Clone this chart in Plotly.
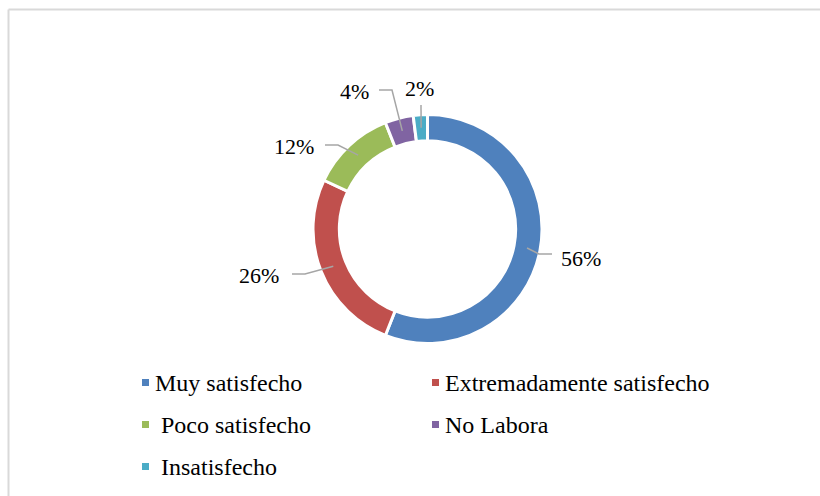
import math
import plotly.graph_objects as go

# Survey results: satisfaction levels
categories = ["Muy satisfecho", "Extremadamente satisfecho", "\u00a0Poco satisfecho",
              "No Labora", "\u00a0Insatisfecho"]
values = [56, 26, 12, 4, 2]
colors = ["#4F81BD", "#C0504D", "#9BBB59", "#8064A2", "#4BACC6"]

W, H = 820, 496
FONT = "Liberation Serif"

# donut geometry (pixels)
cx, cy, R = 427.5, 229.0, 114.5
hole = 0.77

# label text centres and leader-line bend points (pixels), one entry per slice
label_xy = [(581, 258), (259, 275), (294, 146), (354, 91), (419.5, 88)]
leader_pts = [
    [(539, 254), (552, 254)],
    [(305, 274), (292, 274)],
    [(338, 145), (325, 145)],
    [(392, 90), (379, 90)],
    [(421, 105)],
]

# legend grid (pixels): two columns, filled row by row
legend_cols = [145.5, 435.5]
legend_rows = [382.5, 424.5, 466.5]
swatch = 7
text_gap = 8


def px(x):
    return x / W


def py(y):
    return 1 - y / H


fig = go.Figure(go.Pie(
    labels=categories,
    values=values,
    hole=hole,
    sort=False,
    direction="clockwise",
    rotation=0,
    textinfo="none",
    hoverinfo="label+percent",
    marker=dict(colors=colors, line=dict(color="white", width=3)),
    domain=dict(x=[px(cx - R), px(cx + R)], y=[py(cy + R), py(cy - R)]),
    showlegend=False,
))

# leader lines start on the middle of the ring at each slice's mid-angle
total = sum(values)
r_mid = R * (1 + hole) / 2
cum = 0.0
shapes = []
annotations = []
for v, (tx, ty), pts in zip(values, label_xy, leader_pts):
    mid = (cum + v / 2) / total * 2 * math.pi
    cum += v
    ax = cx + r_mid * math.sin(mid)
    ay = cy - r_mid * math.cos(mid)
    path = f"M{px(ax)},{py(ay)}" + "".join(f" L{px(x)},{py(y)}" for x, y in pts)
    shapes.append(dict(type="path", xref="paper", yref="paper", path=path,
                       line=dict(color="#A6A6A6", width=1.5)))
    annotations.append(dict(x=px(tx), y=py(ty), xref="paper", yref="paper",
                            text=f"{v}%", showarrow=False, xanchor="center",
                            yanchor="middle",
                            font=dict(family=FONT, size=22, color="black")))

# legend: colour swatch + category name
for i, (name, col) in enumerate(zip(categories, colors)):
    lx = legend_cols[i % 2]
    ly = legend_rows[i // 2]
    shapes.append(dict(type="rect", xref="paper", yref="paper",
                       x0=px(lx - swatch / 2), x1=px(lx + swatch / 2),
                       y0=py(ly + swatch / 2), y1=py(ly - swatch / 2),
                       fillcolor=col, line=dict(width=0)))
    annotations.append(dict(x=px(lx + text_gap - 0.5), y=py(ly), xref="paper", yref="paper",
                            text=name, showarrow=False, xanchor="left",
                            yanchor="middle",
                            font=dict(family=FONT, size=24, color="black")))

# chart-area border
shapes.append(dict(type="line", xref="paper", yref="paper",
                   x0=px(8.5), x1=1.0, y0=py(9.5), y1=py(9.5),
                   line=dict(color="#D9D9D9", width=2)))
shapes.append(dict(type="line", xref="paper", yref="paper",
                   x0=px(8.5), x1=px(8.5), y0=py(9.5), y1=0.0,
                   line=dict(color="#D9D9D9", width=2)))

fig.update_layout(
    width=W, height=H,
    margin=dict(l=0, r=0, t=0, b=0),
    paper_bgcolor="white",
    plot_bgcolor="white",
    shapes=shapes,
    annotations=annotations,
)

fig.write_html("out.html")
